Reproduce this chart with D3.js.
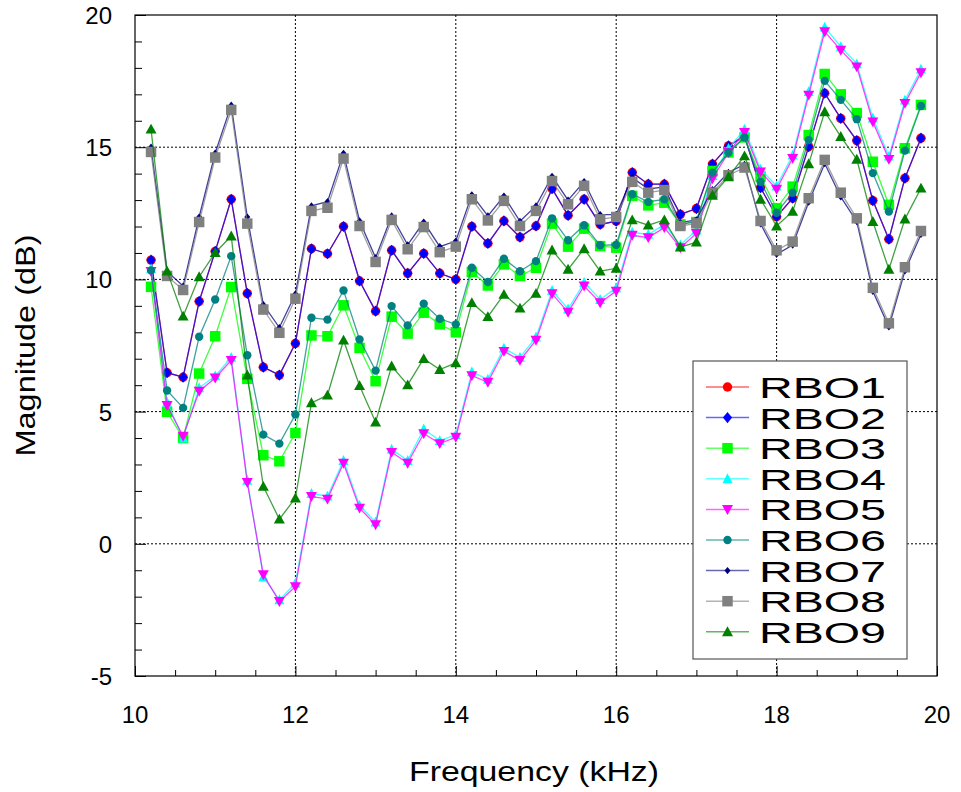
<!DOCTYPE html>
<html>
<head>
<meta charset="utf-8">
<script src="https://cdn.jsdelivr.net/npm/d3@7"></script>
<style>
  body { margin: 0; background: #fff; }
  text { font-family: "Liberation Sans", Arial, Helvetica, sans-serif; fill: #000; }
</style>
</head>
<body>
<svg id="chart"></svg>
<script>
// canvas
const width = 961;
const height = 792;

// frequency points (kHz)
const freqs = [10.2, 10.4, 10.6, 10.8, 11.0, 11.2, 11.4, 11.6, 11.8, 12.0,
  12.2, 12.4, 12.6, 12.8, 13.0, 13.2, 13.4, 13.6, 13.8, 14.0,
  14.2, 14.4, 14.6, 14.8, 15.0, 15.2, 15.4, 15.6, 15.8, 16.0,
  16.2, 16.4, 16.6, 16.8, 17.0, 17.2, 17.4, 17.6, 17.8, 18.0,
  18.2, 18.4, 18.6, 18.8, 19.0, 19.2, 19.4, 19.6, 19.8];

// magnitudes (dB)
const rbo1 = [10.73, 6.47, 6.3, 9.17, 11.06, 13.03, 9.47, 6.68, 6.38, 7.58,
  11.16, 10.97, 12.0, 9.94, 8.8, 11.1, 10.23, 10.98, 10.23, 10.0,
  12.0, 11.36, 12.21, 11.6, 12.02, 13.43, 12.42, 13.03, 12.08, 12.2,
  14.04, 13.6, 13.6, 12.46, 12.68, 14.36, 15.05, 15.43, 13.47, 12.37,
  13.07, 15.02, 17.04, 16.09, 15.25, 12.98, 11.52, 13.83, 15.34];
const rbo2 = [10.73, 6.47, 6.3, 9.17, 11.06, 13.03, 9.47, 6.68, 6.38, 7.58,
  11.16, 10.97, 12.0, 9.94, 8.8, 11.1, 10.23, 10.98, 10.23, 10.0,
  12.0, 11.36, 12.21, 11.6, 12.02, 13.43, 12.42, 13.03, 12.08, 12.2,
  14.04, 13.6, 13.6, 12.46, 12.68, 14.36, 15.05, 15.43, 13.47, 12.37,
  13.07, 15.02, 17.04, 16.09, 15.25, 12.98, 11.52, 13.83, 15.34];
const rbo3 = [9.72, 4.99, 4.0, 6.44, 7.85, 9.71, 6.24, 3.35, 3.12, 4.19,
  7.88, 7.85, 9.02, 7.41, 6.15, 8.59, 7.95, 8.74, 8.3, 8.0,
  10.28, 9.77, 10.57, 10.13, 10.44, 12.11, 11.24, 11.92, 11.26, 11.2,
  13.16, 12.8, 12.9, 12.08, 12.17, 14.1, 14.8, 15.37, 13.89, 12.69,
  13.51, 15.46, 17.77, 17.0, 16.29, 14.45, 12.82, 14.96, 16.6];
const rbo4 = [10.4, 5.35, 4.0, 5.9, 6.35, 7.05, 2.4, -1.26, -2.12, -1.49,
  1.9, 1.8, 3.15, 1.45, 0.82, 3.58, 3.15, 4.34, 3.9, 4.12,
  6.5, 6.22, 7.4, 7.05, 7.82, 9.58, 8.88, 9.88, 9.24, 9.68,
  11.78, 11.7, 12.08, 11.3, 11.86, 13.93, 14.95, 15.68, 14.17, 13.53,
  14.7, 17.1, 19.54, 18.8, 18.15, 16.1, 14.66, 16.78, 17.95];
const rbo5 = [10.3, 5.23, 4.07, 5.77, 6.27, 6.94, 2.32, -1.17, -2.18, -1.62,
  1.79, 1.69, 3.05, 1.35, 0.72, 3.46, 3.05, 4.17, 3.79, 4.03,
  6.36, 6.11, 7.28, 6.94, 7.7, 9.46, 8.76, 9.75, 9.12, 9.56,
  11.67, 11.58, 11.96, 11.2, 11.74, 13.81, 14.8, 15.56, 14.07, 13.41,
  14.58, 16.97, 19.37, 18.67, 18.04, 15.96, 14.54, 16.66, 17.82];
const rbo6 = [10.34, 5.8, 5.14, 7.83, 9.24, 10.88, 7.13, 4.13, 3.79, 4.89,
  8.55, 8.48, 9.58, 7.73, 6.55, 8.99, 8.26, 9.08, 8.51, 8.3,
  10.44, 9.9, 10.78, 10.31, 10.69, 12.31, 11.48, 12.05, 11.29, 11.31,
  13.22, 12.93, 13.03, 12.08, 12.2, 14.04, 14.8, 15.37, 13.69, 12.52,
  13.28, 15.27, 17.51, 16.79, 16.06, 14.02, 12.57, 14.87, 16.56];
const rbo7 = [15.0, 10.3, 9.75, 12.36, 14.78, 16.59, 12.36, 9.05, 8.18, 9.45,
  12.78, 12.94, 14.77, 12.21, 10.82, 12.4, 11.31, 12.17, 11.24, 11.45,
  13.2, 12.4, 13.15, 12.2, 12.78, 13.9, 13.0, 13.7, 12.45, 12.45,
  13.85, 13.42, 13.5, 12.15, 12.25, 13.4, 14.05, 14.35, 12.1, 10.95,
  11.3, 12.92, 14.38, 13.12, 12.18, 9.55, 8.2, 10.32, 11.7];
const rbo8 = [14.82, 10.13, 9.6, 12.17, 14.61, 16.41, 12.11, 8.86, 7.98, 9.27,
  12.59, 12.71, 14.57, 12.02, 10.66, 12.25, 11.14, 11.98, 11.03, 11.24,
  13.03, 12.23, 12.97, 12.02, 12.59, 13.72, 12.84, 13.54, 12.27, 12.36,
  13.69, 13.28, 13.38, 12.02, 12.12, 13.28, 13.94, 14.23, 12.21, 11.1,
  11.43, 13.07, 14.52, 13.28, 12.31, 9.68, 8.34, 10.46, 11.83];
const rbo9 = [15.68, 10.31, 8.61, 10.1, 11.01, 11.64, 6.38, 2.17, 0.93, 1.73,
  5.33, 5.62, 7.7, 5.98, 4.6, 6.72, 6.01, 7.0, 6.59, 6.84,
  9.12, 8.59, 9.43, 8.91, 9.47, 11.11, 10.38, 11.16, 10.31, 10.42,
  12.25, 12.05, 12.25, 11.22, 11.41, 13.18, 13.88, 14.67, 13.03, 12.02,
  12.57, 14.37, 16.34, 15.4, 14.54, 12.19, 10.38, 12.28, 13.45];

const seriesNames = ["RBO1", "RBO2", "RBO3", "RBO4", "RBO5", "RBO6", "RBO7", "RBO8", "RBO9"];
const seriesValues = [rbo1, rbo2, rbo3, rbo4, rbo5, rbo6, rbo7, rbo8, rbo9];

const xTicks = [10, 12, 14, 16, 18, 20];
const yTicks = [-5, 0, 5, 10, 15, 20];

// custom marker shapes (half width / half height in px)
const diamond = (hw, hh) => ({ draw(ctx) {
  ctx.moveTo(0, -hh); ctx.lineTo(hw, 0); ctx.lineTo(0, hh); ctx.lineTo(-hw, 0); ctx.closePath();
}});
const triUp = (hw, hh) => ({ draw(ctx) {
  ctx.moveTo(0, -hh); ctx.lineTo(hw, hh * 0.8); ctx.lineTo(-hw, hh * 0.8); ctx.closePath();
}});
const triDown = (hw, hh) => ({ draw(ctx) {
  ctx.moveTo(0, hh); ctx.lineTo(hw, -hh * 0.8); ctx.lineTo(-hw, -hh * 0.8); ctx.closePath();
}});

const styles = [
  { color: "#ff0000", type: d3.symbolCircle, size: 70 },
  { color: "#0000ff", type: diamond(4.6, 5.6), size: 1 },
  { color: "#00ff00", type: d3.symbolSquare, size: 110 },
  { color: "#00ffff", type: triUp(5, 5.5), size: 1 },
  { color: "#ff00ff", type: triDown(5.5, 5.5), size: 1 },
  { color: "#008080", type: d3.symbolCircle, size: 55 },
  { color: "#000080", type: diamond(3, 3.6), size: 1 },
  { color: "#808080", type: d3.symbolSquare, size: 110 },
  { color: "#008000", type: triUp(5.5, 5.5), size: 1 }
];

const margin = { left: 135, right: 24, top: 15, bottom: 116 };
const plotW = width - margin.left - margin.right;
const plotH = height - margin.top - margin.bottom;

const svg = d3.select("#chart")
  .attr("width", width)
  .attr("height", height);

const g = svg.append("g").attr("transform", `translate(${margin.left},${margin.top})`);

const xScale = d3.scaleLinear().domain([10, 20]).range([0, plotW]);
const yScale = d3.scaleLinear().domain([-5, 20]).range([plotH, 0]);

// dotted grid
g.append("g").selectAll("line")
  .data(xTicks.slice(1, -1))
  .join("line")
  .attr("x1", d => xScale(d)).attr("x2", d => xScale(d))
  .attr("y1", 0).attr("y2", plotH)
  .attr("stroke", "#000").attr("stroke-width", 1).attr("stroke-dasharray", "2,2");
g.append("g").selectAll("line")
  .data(yTicks.slice(1, -1))
  .join("line")
  .attr("x1", 0).attr("x2", plotW)
  .attr("y1", d => yScale(d)).attr("y2", d => yScale(d))
  .attr("stroke", "#000").attr("stroke-width", 1).attr("stroke-dasharray", "2,2");

// axes with inward ticks
const xAxis = g.append("g")
  .attr("transform", `translate(0,${plotH})`)
  .call(d3.axisBottom(xScale).tickValues(d3.range(10, 20.01, 0.5)).tickSize(-6).tickFormat(""));
xAxis.select(".domain").remove();
xAxis.selectAll(".tick line").attr("stroke-width", 1)
  .filter(d => Math.abs(d % 2) < 1e-6).attr("y2", -10);

const yAxis = g.append("g")
  .call(d3.axisLeft(yScale).tickValues(d3.range(-5, 20.01, 1)).tickSize(-7).tickFormat(""));
yAxis.select(".domain").remove();
yAxis.selectAll(".tick line")
  .filter(d => Math.abs(d % 5) < 1e-6).attr("x2", 11);

// tick labels
g.append("g").selectAll("text")
  .data(xTicks)
  .join("text")
  .attr("x", d => xScale(d))
  .attr("y", plotH + 47)
  .attr("text-anchor", "middle")
  .style("font-size", "24px")
  .text(d => d);
g.append("g").selectAll("text")
  .data(yTicks)
  .join("text")
  .attr("x", -23)
  .attr("y", d => yScale(d) + 9)
  .attr("text-anchor", "end")
  .style("font-size", "24px")
  .text(d => d);

// lines and markers
const line = d3.line()
  .x((d, i) => xScale(freqs[i]))
  .y(d => yScale(d));

seriesValues.forEach((vals, k) => {
  const st = styles[k];
  g.append("path")
    .datum(vals)
    .attr("fill", "none")
    .attr("stroke", st.color)
    .attr("stroke-opacity", 0.75)
    .attr("stroke-width", 1.3)
    .attr("d", line);
  g.append("g").selectAll("path")
    .data(vals)
    .join("path")
    .attr("transform", (d, i) => `translate(${xScale(freqs[i])},${yScale(d)})`)
    .attr("d", d3.symbol().type(st.type).size(st.size))
    .attr("fill", st.color);
});

// frame
g.append("rect")
  .attr("width", plotW).attr("height", plotH)
  .attr("fill", "none").attr("stroke", "#000").attr("stroke-width", 1.2);

// legend
const legend = svg.append("g").attr("transform", "translate(693,361)");
legend.append("rect")
  .attr("width", 214).attr("height", 298)
  .attr("fill", "#fff").attr("stroke", "#555").attr("stroke-width", 1.2);
seriesNames.forEach((name, k) => {
  const st = styles[k];
  const ly = 26 + k * 30.6;
  const row = legend.append("g").attr("transform", `translate(0,${ly})`);
  row.append("line")
    .attr("x1", 13).attr("x2", 56).attr("y1", 0).attr("y2", 0)
    .attr("stroke", st.color).attr("stroke-opacity", 0.6).attr("stroke-width", 1.5);
  row.append("path")
    .attr("transform", "translate(34.5,0)")
    .attr("d", d3.symbol().type(st.type).size(st.size))
    .attr("fill", st.color);
  row.append("text")
    .attr("x", 66).attr("y", 11)
    .attr("textLength", 127).attr("lengthAdjust", "spacingAndGlyphs")
    .style("font-size", "30px")
    .text(name);
});

// axis titles
svg.append("text")
  .attr("x", margin.left + plotW / 2 - 2)
  .attr("y", 781)
  .attr("text-anchor", "middle")
  .attr("textLength", 250).attr("lengthAdjust", "spacingAndGlyphs")
  .style("font-size", "28px")
  .text("Frequency (kHz)");
svg.append("text")
  .attr("transform", `translate(35,${margin.top + plotH / 2}) rotate(-90)`)
  .attr("text-anchor", "middle")
  .attr("textLength", 222).attr("lengthAdjust", "spacingAndGlyphs")
  .style("font-size", "28px")
  .text("Magnitude (dB)");
</script>
</body>
</html>
